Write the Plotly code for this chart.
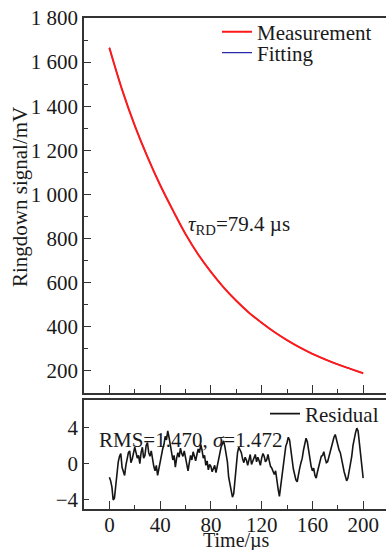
import plotly.graph_objects as go

# ---- data ----
time_us = [0, 10, 20, 30, 40, 50, 60, 70, 80, 90, 100, 110, 120, 130, 140, 150, 160, 170, 180, 190, 200]
measurement_mV = [1665, 1475, 1312, 1170, 1042, 928, 820, 727, 648, 578, 517, 463, 417, 375, 338, 305, 276, 251, 228, 208, 188]
fitting_mV = [1665, 1475, 1312, 1170, 1042, 928, 820, 727, 648, 578, 517, 463, 417, 375, 338, 305, 276, 251, 228, 208, 188]

res_time_us = list(range(0, 201))
residual = [-1.5, -1.9, -2.6, -4.0, -3.8, -2.2, -1.5, 0.2, 0.8, 1.1,
            -0.4, -1.0, -1.3, -0.2, 0.4, 1.2, 1.4, 0.1, 0.5, 1.0,
            1.8, 1.2, 0.6, 0.9, 0.0, 1.2, 1.8, 0.6, 0.9, 2.0,
            2.3, 1.2, 0.8, 1.4, 0.2, -0.3, -0.8, -0.2, -1.3, -0.5,
            0.3, 1.0, 1.6, 2.1, 3.0, 2.6, 3.6, 2.9, 2.0, 1.1,
            0.4, 0.9, -0.4, 0.6, 1.2, 0.7, 1.7, 1.1, 0.8, 1.4,
            0.5, -0.2, -0.8, 0.1, 0.9, 0.4, 1.3, 0.8, 0.3, 1.0,
            1.6, 1.2, 2.1, 1.5, 0.6, 0.9, -0.2, 0.3, -0.7, -0.1,
            -0.3, -0.9, -0.6, -0.2, -1.0, -0.4, 0.3, 1.1, 1.8, 2.3,
            2.5, 1.9, 1.2, 0.2, -1.5, -2.4, -3.0, -3.7, -3.3, -1.6,
            0.5, 1.2, 1.8, 1.4, 1.2, 0.5, 0.1, 0.7, 0.4, -0.2,
            0.6, 1.0, -0.1, 0.3, 0.5, 1.0, 0.2, 0.7, 0.3, -0.2,
            0.6, 1.1, 0.8, 0.2, 0.4, 1.0, 0.3, -0.3, -0.5, -0.9,
            -1.2, -0.8, -2.0, -2.8, -3.6, -2.6, -1.5, -0.4, 0.8, 1.9,
            2.3, 2.9, 2.6, 1.5, 0.2, -0.6, -1.2, -1.8, -2.0, -1.1,
            -0.5, 0.1, 0.6, 1.5, 2.2, 2.8, 2.4, 1.4, 0.5, -0.3,
            -0.8, -0.5, -1.3, -1.6, -0.9, -0.2, 0.3, 0.8, 0.9, 1.3,
            0.6, 0.1, 0.2, 0.8, 1.3, 1.9, 2.4, 2.9, 3.2, 2.6,
            2.2, 1.5, 1.2, 0.4, -0.3, -0.9, -1.4, -1.9, -1.6, -0.9,
            -0.2, 0.8, 2.0, 2.8, 3.4, 3.9, 3.6, 2.3, 1.0, -0.4,
            -1.6]

x_ticks = [0, 40, 80, 120, 160, 200]

FONT = "Liberation Serif, Times New Roman, serif"
AX = "#333333"
TXT = "#1a1a1a"

fig = go.Figure()
fig.add_trace(go.Scatter(x=time_us, y=fitting_mV, mode="lines", name="Fitting",
                         line=dict(color="#2a2aa8", width=1.2, shape="spline"),
                         xaxis="x", yaxis="y", legend="legend3"))
fig.add_trace(go.Scatter(x=time_us, y=measurement_mV, mode="lines", name="Measurement",
                         line=dict(color="#ff1a1a", width=2, shape="spline"),
                         xaxis="x", yaxis="y", legend="legend"))
fig.add_trace(go.Scatter(x=res_time_us, y=residual, mode="lines", name="Residual",
                         line=dict(color="#151515", width=1.6),
                         xaxis="x2", yaxis="y2", legend="legend2"))

common_x = dict(range=[-20, 218], showline=True, linecolor=AX, linewidth=1.5, mirror=True,
                showgrid=False, zeroline=False, ticks="inside", ticklen=8, tickwidth=1.2,
                tickcolor=AX, tickvals=x_ticks, automargin=False,
                minor=dict(ticks="inside", ticklen=4, tickwidth=1.2, tickcolor=AX, dtick=20, tick0=0))

fig.update_layout(
    width=386, height=550,
    margin=dict(l=84, r=0, t=18, b=41),
    paper_bgcolor="white", plot_bgcolor="white",
    font=dict(family=FONT, size=21, color=TXT),
    separators=". ",
    showlegend=True,
    xaxis=dict(domain=[0, 1], anchor="y", showticklabels=False, **common_x),
    yaxis=dict(domain=[0.237, 1], anchor="x", range=[100, 1800], tick0=0, dtick=200,
               separatethousands=True, showline=True, linecolor=AX, linewidth=1.5,
               showgrid=False, zeroline=False, ticks="inside", ticklen=7, tickwidth=1.2,
               tickcolor=AX, tickfont=dict(size=21), automargin=False,
               minor=dict(ticks="inside", ticklen=4, tickwidth=1.2, tickcolor=AX, dtick=100, tick0=0)),
    xaxis2=dict(domain=[0, 1], anchor="y2", tickfont=dict(size=21), ticklabelstandoff=-4,
                **common_x),
    yaxis2=dict(domain=[0, 0.222], anchor="x2", range=[-5, 7], tickvals=[-4, 0, 4],
                ticktext=["\u22124", "0", "4"], automargin=False,
                showline=True, linecolor=AX, linewidth=1.5, showgrid=False, zeroline=False,
                ticks="inside", ticklen=5, tickwidth=1.2, tickcolor=AX, tickfont=dict(size=21)),
    legend=dict(x=(217 - 84) / 302, y=(509 - 32) / 491, xanchor="left", yanchor="middle",
                bgcolor="rgba(0,0,0,0)", font=dict(size=21), borderwidth=0),
    legend3=dict(x=(217 - 84) / 302, y=(509 - 53) / 491, xanchor="left", yanchor="middle",
                 bgcolor="rgba(0,0,0,0)", font=dict(size=21), borderwidth=0),
    legend2=dict(x=(265 - 84) / 302, y=(509 - 414) / 491, xanchor="left", yanchor="middle",
                 bgcolor="rgba(0,0,0,0)", font=dict(size=21), borderwidth=0),
    annotations=[
        dict(text="Ringdown signal/mV", textangle=-90, xref="paper", yref="paper",
             x=(20 - 84) / 302, y=(509 - 197) / 491, xanchor="center", yanchor="middle",
             showarrow=False, font=dict(size=21)),
        dict(text="Time/µs", xref="paper", yref="paper",
             x=(236 - 84) / 302, y=(509 - 540) / 491, xanchor="center", yanchor="middle",
             showarrow=False, font=dict(size=20)),
        dict(text="<i>τ</i><sub>RD</sub>=79.4 µs", xref="x", yref="y", x=60, y=862,
             xanchor="left", yanchor="middle", showarrow=False, font=dict(size=21)),
        dict(text="RMS=1.470, <i>σ</i>=1.472", xref="x2", yref="y2", x=-10, y=2.6,
             xanchor="left", yanchor="middle", showarrow=False, font=dict(size=21)),
    ],
)

fig.write_html("out.html")
